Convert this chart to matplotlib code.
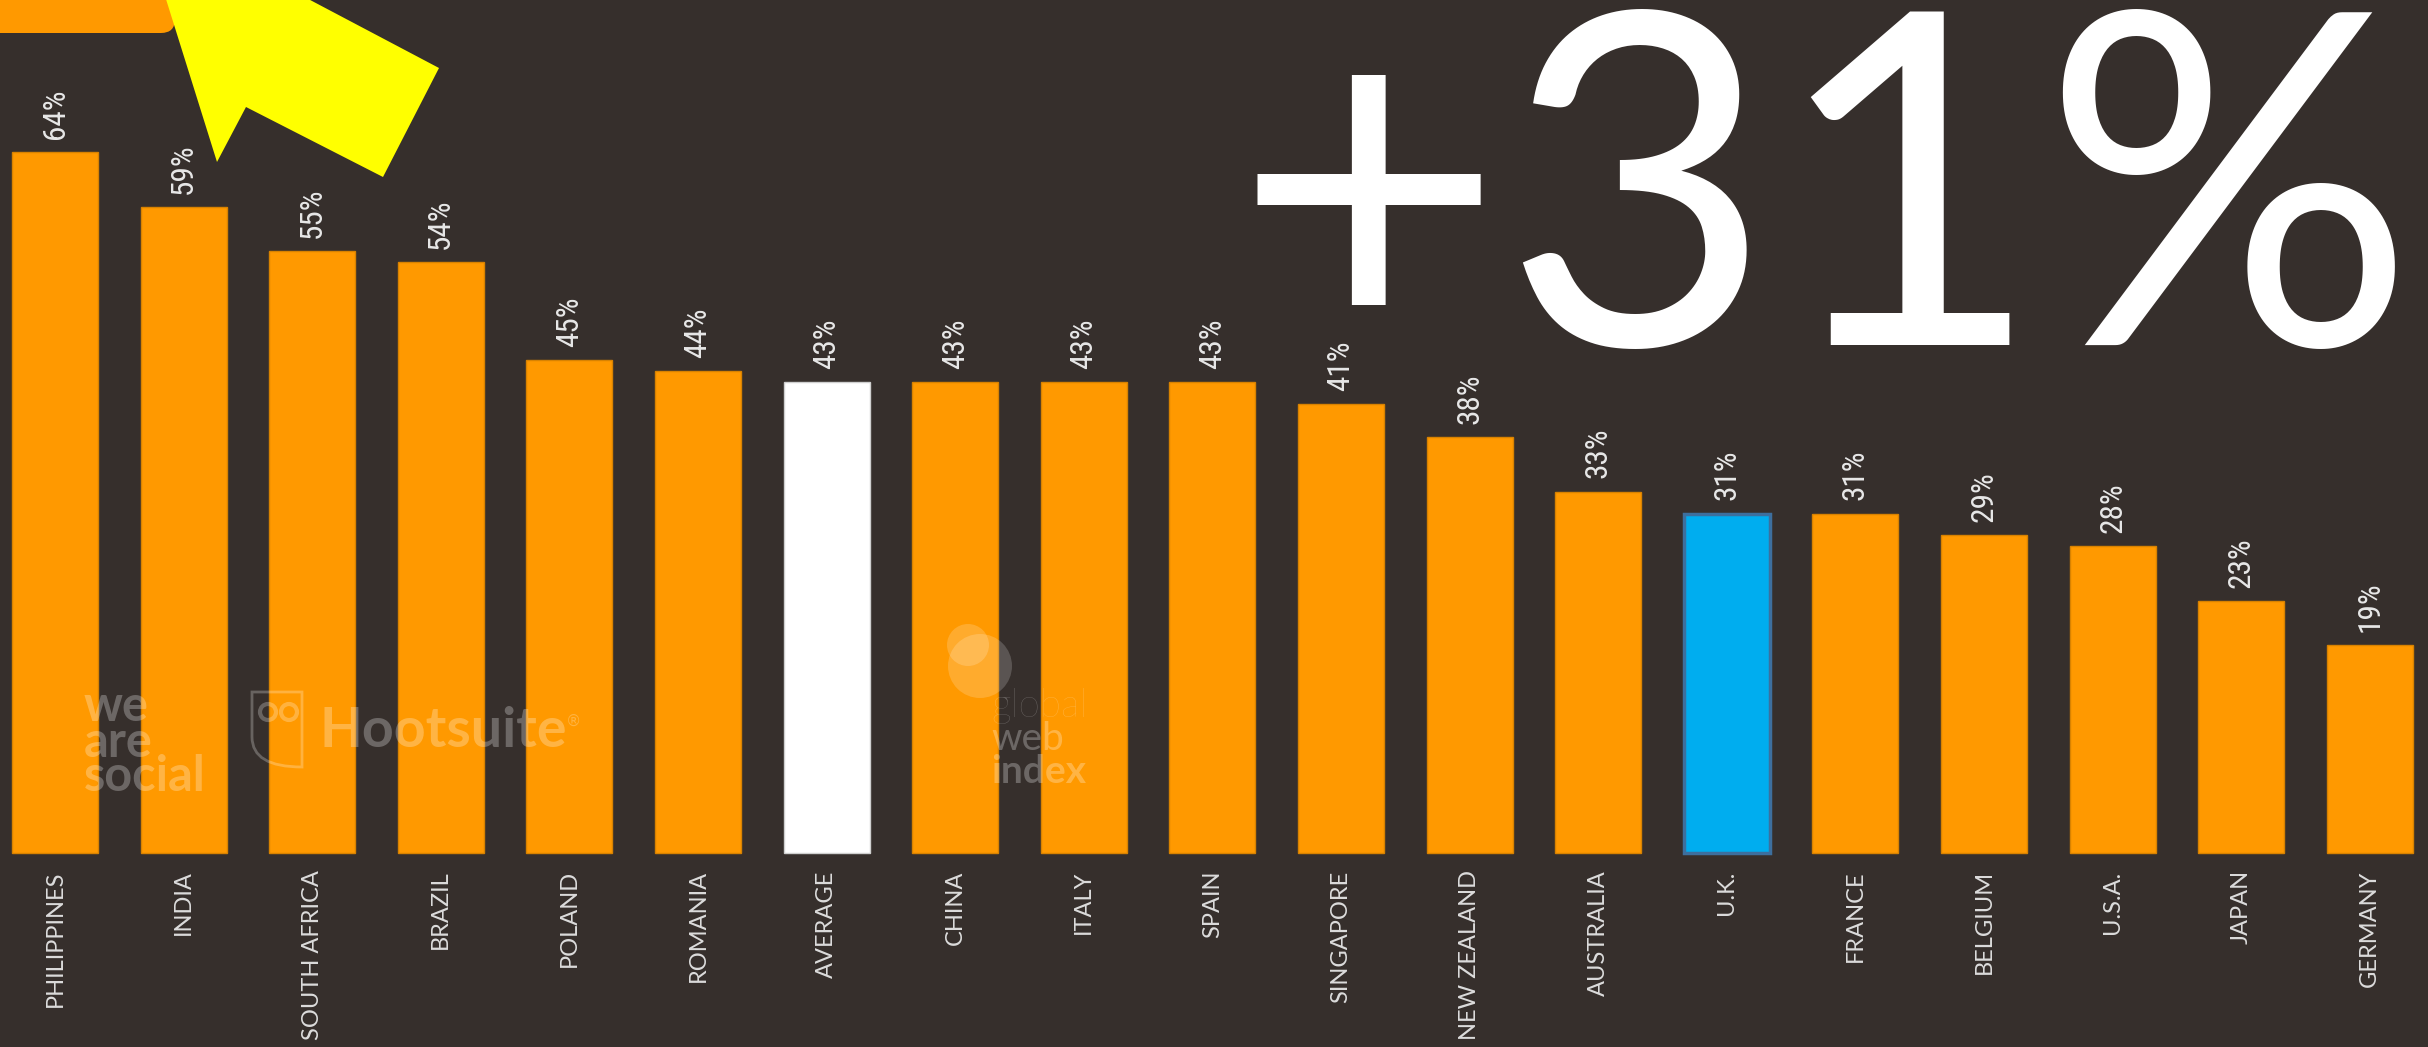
import numpy as np
import matplotlib
matplotlib.use('Agg')
import matplotlib.pyplot as plt
from matplotlib import font_manager
from matplotlib.patches import Polygon, FancyBboxPatch, Circle, PathPatch
from matplotlib.path import Path

countries = ['PHILIPPINES', 'INDIA', 'SOUTH AFRICA', 'BRAZIL', 'POLAND', 'ROMANIA',
             'AVERAGE', 'CHINA', 'ITALY', 'SPAIN', 'SINGAPORE', 'NEW ZEALAND',
             'AUSTRALIA', 'U.K.', 'FRANCE', 'BELGIUM', 'U.S.A.', 'JAPAN', 'GERMANY']
share = [64, 59, 55, 54, 45, 44, 43, 43, 43, 43, 41, 38, 33, 31, 31, 29, 28, 23, 19]
value_labels = [f'{v}%' for v in share]
headline = '+31%'

bg = '#362f2c'
orange = '#ff9900'
blue = '#00adef'

names = {f.name for f in font_manager.fontManager.ttflist}
def pick(*cands):
    for c in cands:
        if c in names:
            return c
    return 'DejaVu Sans'

narrow = pick('Roboto Condensed', 'Liberation Sans Narrow', 'DejaVu Sans Condensed', 'Open Sans Condensed')
lato = pick('Lato', 'Open Sans')

W, H = 2428, 1047
fig = plt.figure(figsize=(W / 100, H / 100), dpi=100, facecolor=bg)
ax = fig.add_axes([0, 0, 1, 1])
ax.set_facecolor(bg)

x = np.arange(len(countries))
colors, edges = [], []
for c in countries:
    if c == 'AVERAGE':
        colors.append('white'); edges.append('#cfcfcf')
    elif c == 'U.K.':
        colors.append(blue); edges.append('#3d6f9e')
    else:
        colors.append(orange); edges.append('#d88200')
lws = [2.5 if c == 'U.K.' else 1.0 for c in countries]
ax.bar(x, share, width=0.669, color=colors, edgecolor=edges, linewidth=lws, zorder=2)
ax.set_xlim(-0.4277, 18.452)
ax.set_ylim(-17.72, 77.9)
ax.axis('off')

for i, (v, lab, name) in enumerate(zip(share, value_labels, countries)):
    ax.annotate(lab, (i, v), xytext=(0, 9.5), textcoords='offset points',
                rotation=90, ha='center', va='bottom', fontsize=22.5,
                color='#e8e8e8', family=[narrow, 'DejaVu Sans'])
    ax.annotate(name, (i, 0), xytext=(0, -12.5), textcoords='offset points',
                rotation=90, ha='center', va='top', fontsize=17,
                color='#dcdcdc', family=[lato, 'DejaVu Sans'])

# overlay in pixel coordinates for decorations
ov = fig.add_axes([0, 0, 1, 1])
ov.set_xlim(0, W)
ov.set_ylim(H, 0)
ov.axis('off')
ov.patch.set_alpha(0)

ov.add_patch(FancyBboxPatch((-20, -30), 195, 63, boxstyle='round,pad=0,rounding_size=14',
                            facecolor=orange, edgecolor='none'))
ov.add_patch(Polygon([(160, -20), (217, 162), (246, 107), (383, 177), (439, 68), (295, -8)],
                     closed=True, facecolor='#ffff00', edgecolor='none'))

wm = dict(color='white', alpha=0.27, family=[lato, 'DejaVu Sans'], fontweight='bold')
for txt, yb in zip(['we', 'are', 'social'], [721, 757, 791]):
    ov.text(84, yb, txt, fontsize=35, va='baseline', ha='left', **wm)

owl = Path([(252, 692), (252, 737), (252, 767), (302, 767), (302, 692), (252, 692)],
           [Path.MOVETO, Path.LINETO, Path.CURVE3, Path.CURVE3, Path.LINETO, Path.CLOSEPOLY])
ov.add_patch(PathPatch(owl, facecolor='none', edgecolor='white', alpha=0.25, lw=2))
for cx in (268, 289):
    ov.add_patch(Circle((cx, 712), 8, facecolor='none', edgecolor='white', alpha=0.25, lw=3))
ov.text(320, 747, 'Hootsuite', fontsize=40, va='baseline', ha='left', **wm)
ov.text(566, 726, '®', fontsize=11, va='baseline', ha='left', color='white', alpha=0.25)

ov.add_patch(Circle((968, 645), 21, facecolor='white', alpha=0.18, edgecolor='none'))
ov.add_patch(Circle((980, 666), 32, facecolor='white', alpha=0.18, edgecolor='none'))
for txt, yb, fw in zip(['global', 'web', 'index'], [717, 750, 783], ['light', 'normal', 'bold']):
    ov.text(991, yb, txt, fontsize=28, va='baseline', ha='left', color='white', alpha=0.27,
            family=[lato, 'DejaVu Sans'], fontweight=fw)

ov.text(1825, 345, headline, fontsize=335, color='white', ha='center', va='baseline',
        family=[lato, 'DejaVu Sans'])

fig.savefig('out.png', dpi=100, facecolor=bg)
